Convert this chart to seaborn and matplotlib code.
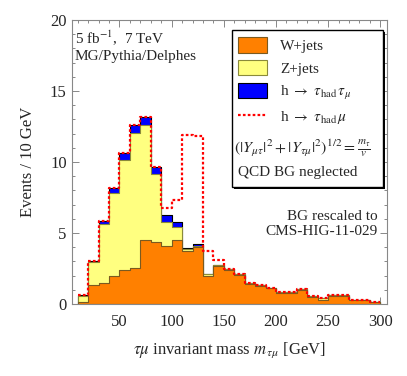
import numpy as np
import pandas as pd
import matplotlib
matplotlib.use('Agg')
import matplotlib.pyplot as plt
from matplotlib.patches import Patch, Rectangle
from matplotlib.lines import Line2D
from matplotlib.ticker import MultipleLocator
import seaborn as sns

# 10 GeV bins from 10 to 300 GeV
bin_edges = list(range(10, 301, 10))
bin_centers = [e + 5 for e in bin_edges[:-1]]

w_jets = [0.15, 1.35, 1.45, 1.95, 2.4, 2.55, 4.5, 4.4, 4.05, 4.5,
          3.7, 4.0, 1.95, 2.65, 2.4, 2.05, 1.4, 1.3, 1.1, 0.8,
          0.8, 1.0, 0.5, 0.3, 0.55, 0.55, 0.25, 0.25, 0.15]
z_jets = [0.4, 1.6, 4.15, 5.9, 7.75, 9.5, 8.1, 4.75, 1.75, 0.95,
          0.15, 0.1, 0.15, 0.12, 0.08, 0.05, 0.05, 0.05, 0.05, 0.03,
          0.03, 0.05, 0.05, 0.1, 0.05, 0.05, 0.03, 0.03, 0.02]
h_tautau = [0.05, 0.05, 0.25, 0.35, 0.45, 0.55, 0.6, 0.5, 0.5, 0.3,
            0.12, 0.1, 0.0, 0.0, 0.0, 0.0, 0.0, 0.0, 0.0, 0.0,
            0.0, 0.0, 0.0, 0.0, 0.0, 0.0, 0.0, 0.0, 0.0]
h_taumu = [0.0, 0.0, 0.0, 0.0, 0.0, 0.0, 0.0, 0.0, 0.45, 1.55,
           7.9, 7.65, 1.6, 0.3, 0.0, 0.0, 0.0, 0.0, 0.0, 0.0,
           0.0, 0.0, 0.0, 0.0, 0.0, 0.0, 0.0, 0.0, 0.0]

ORANGE = '#FF8000'
YELLOW = '#FFFF80'
BLUE = '#0000FF'
RED = '#FF0000'
DASH = (0, (1.2, 1.0))

sns.set_style('ticks')
plt.rcParams['font.family'] = ['Liberation Serif', 'DejaVu Serif']
plt.rcParams['mathtext.fontset'] = 'stix'

df = pd.DataFrame({'mass': bin_centers})
df['w'] = w_jets
df['wz'] = df['w'] + np.array(z_jets)
df['total'] = df['wz'] + np.array(h_tautau)
df['signal'] = df['total'] + np.array(h_taumu)

fig = plt.figure(figsize=(4.07, 3.76), dpi=100)
ax = fig.add_axes([0.1757, 0.1915, 0.774, 0.7553])

# stacked layers drawn top-down so each one covers the one above
hist_kw = dict(data=df, x='mass', bins=bin_edges, element='step', fill=True,
               alpha=1, ax=ax, linewidth=0.8)
sns.histplot(weights='total', color=BLUE, edgecolor='black', **hist_kw)
sns.histplot(weights='wz', color=YELLOW, edgecolor='#8a8a3a', **hist_kw)
sns.histplot(weights='w', color=ORANGE, edgecolor='#7a5a20', **hist_kw)
sns.histplot(data=df, x='mass', weights='signal', bins=bin_edges, element='step',
             fill=False, color=RED, linewidth=1.6, linestyle=DASH, ax=ax)

ax.set_xlim(4, 306)
ax.set_ylim(0, 20)
ax.xaxis.set_major_locator(MultipleLocator(50))
ax.xaxis.set_minor_locator(MultipleLocator(10))
ax.yaxis.set_major_locator(MultipleLocator(5))
ax.yaxis.set_minor_locator(MultipleLocator(1))
ax.tick_params(which='both', direction='in', top=True, right=True, color='#888888',
               labelsize=12, width=0.7)
ax.tick_params(which='major', length=5)
ax.tick_params(which='minor', length=2.5)
ax.tick_params(axis='x', pad=7)
for s in ax.spines.values():
    s.set_color('#888888')
    s.set_linewidth(0.8)

ax.set_xlabel(r'$\tau\mu$ invariant mass $m_{\,\tau\mu}$ [GeV]', fontsize=12, labelpad=8)
ax.set_ylabel('Events / 10 GeV', fontsize=12, labelpad=10)

ax.text(0.01, 0.917, r'5 fb$^{-1}$,  7 TeV', transform=ax.transAxes, fontsize=11,
        va='baseline')
ax.text(0.01, 0.859, 'MG/Pythia/Delphes', transform=ax.transAxes, fontsize=11,
        va='baseline')
ax.text(0.973, 0.282, 'BG rescaled to\nCMS-HIG-11-029', transform=ax.transAxes,
        fontsize=11, ha='right', va='center', linespacing=1.15)

# legend frame with a small drop shadow
box_x0, box_y0, box_w, box_h = 0.508, 0.412, 0.48, 0.553
ax.add_patch(Rectangle((box_x0 + 0.007, box_y0 - 0.008), box_w, box_h, transform=ax.transAxes,
                       facecolor='black', edgecolor='none', zorder=5))
ax.add_patch(Rectangle((box_x0, box_y0), box_w, box_h, transform=ax.transAxes,
                       facecolor='white', edgecolor='black', linewidth=1.0, zorder=6))

handles = [
    Patch(facecolor=ORANGE, edgecolor='#7a5a20', linewidth=0.8),
    Patch(facecolor=YELLOW, edgecolor='#8a8a3a', linewidth=0.8),
    Patch(facecolor=BLUE, edgecolor='black', linewidth=0.8),
    Line2D([], [], color=RED, linewidth=1.6, linestyle=DASH),
]
labels = ['W+jets', 'Z+jets', r'h $\rightarrow$ $\tau_{\rm had}\,\tau_{\mu}$',
          r'h $\rightarrow$ $\tau_{\rm had}\,\mu$']
leg = ax.legend(handles, labels, loc='upper left', bbox_to_anchor=(0.528, 0.939),
                frameon=False, fontsize=11, handlelength=1.9, handleheight=1.16,
                handletextpad=0.87, labelspacing=0.45, borderpad=0, borderaxespad=0)
leg.set_zorder(7)

ax.text(0.517, 0.549, r'$(|Y_{\mu\tau}|^2 + |Y_{\tau\mu}|^2)^{1/2} = \frac{m_\tau}{v}$',
        transform=ax.transAxes, fontsize=11.5, va='center', zorder=8)
ax.text(0.528, 0.464, 'QCD BG neglected', transform=ax.transAxes, fontsize=11,
        va='center', zorder=8)

fig.savefig('out.png', dpi=100)
